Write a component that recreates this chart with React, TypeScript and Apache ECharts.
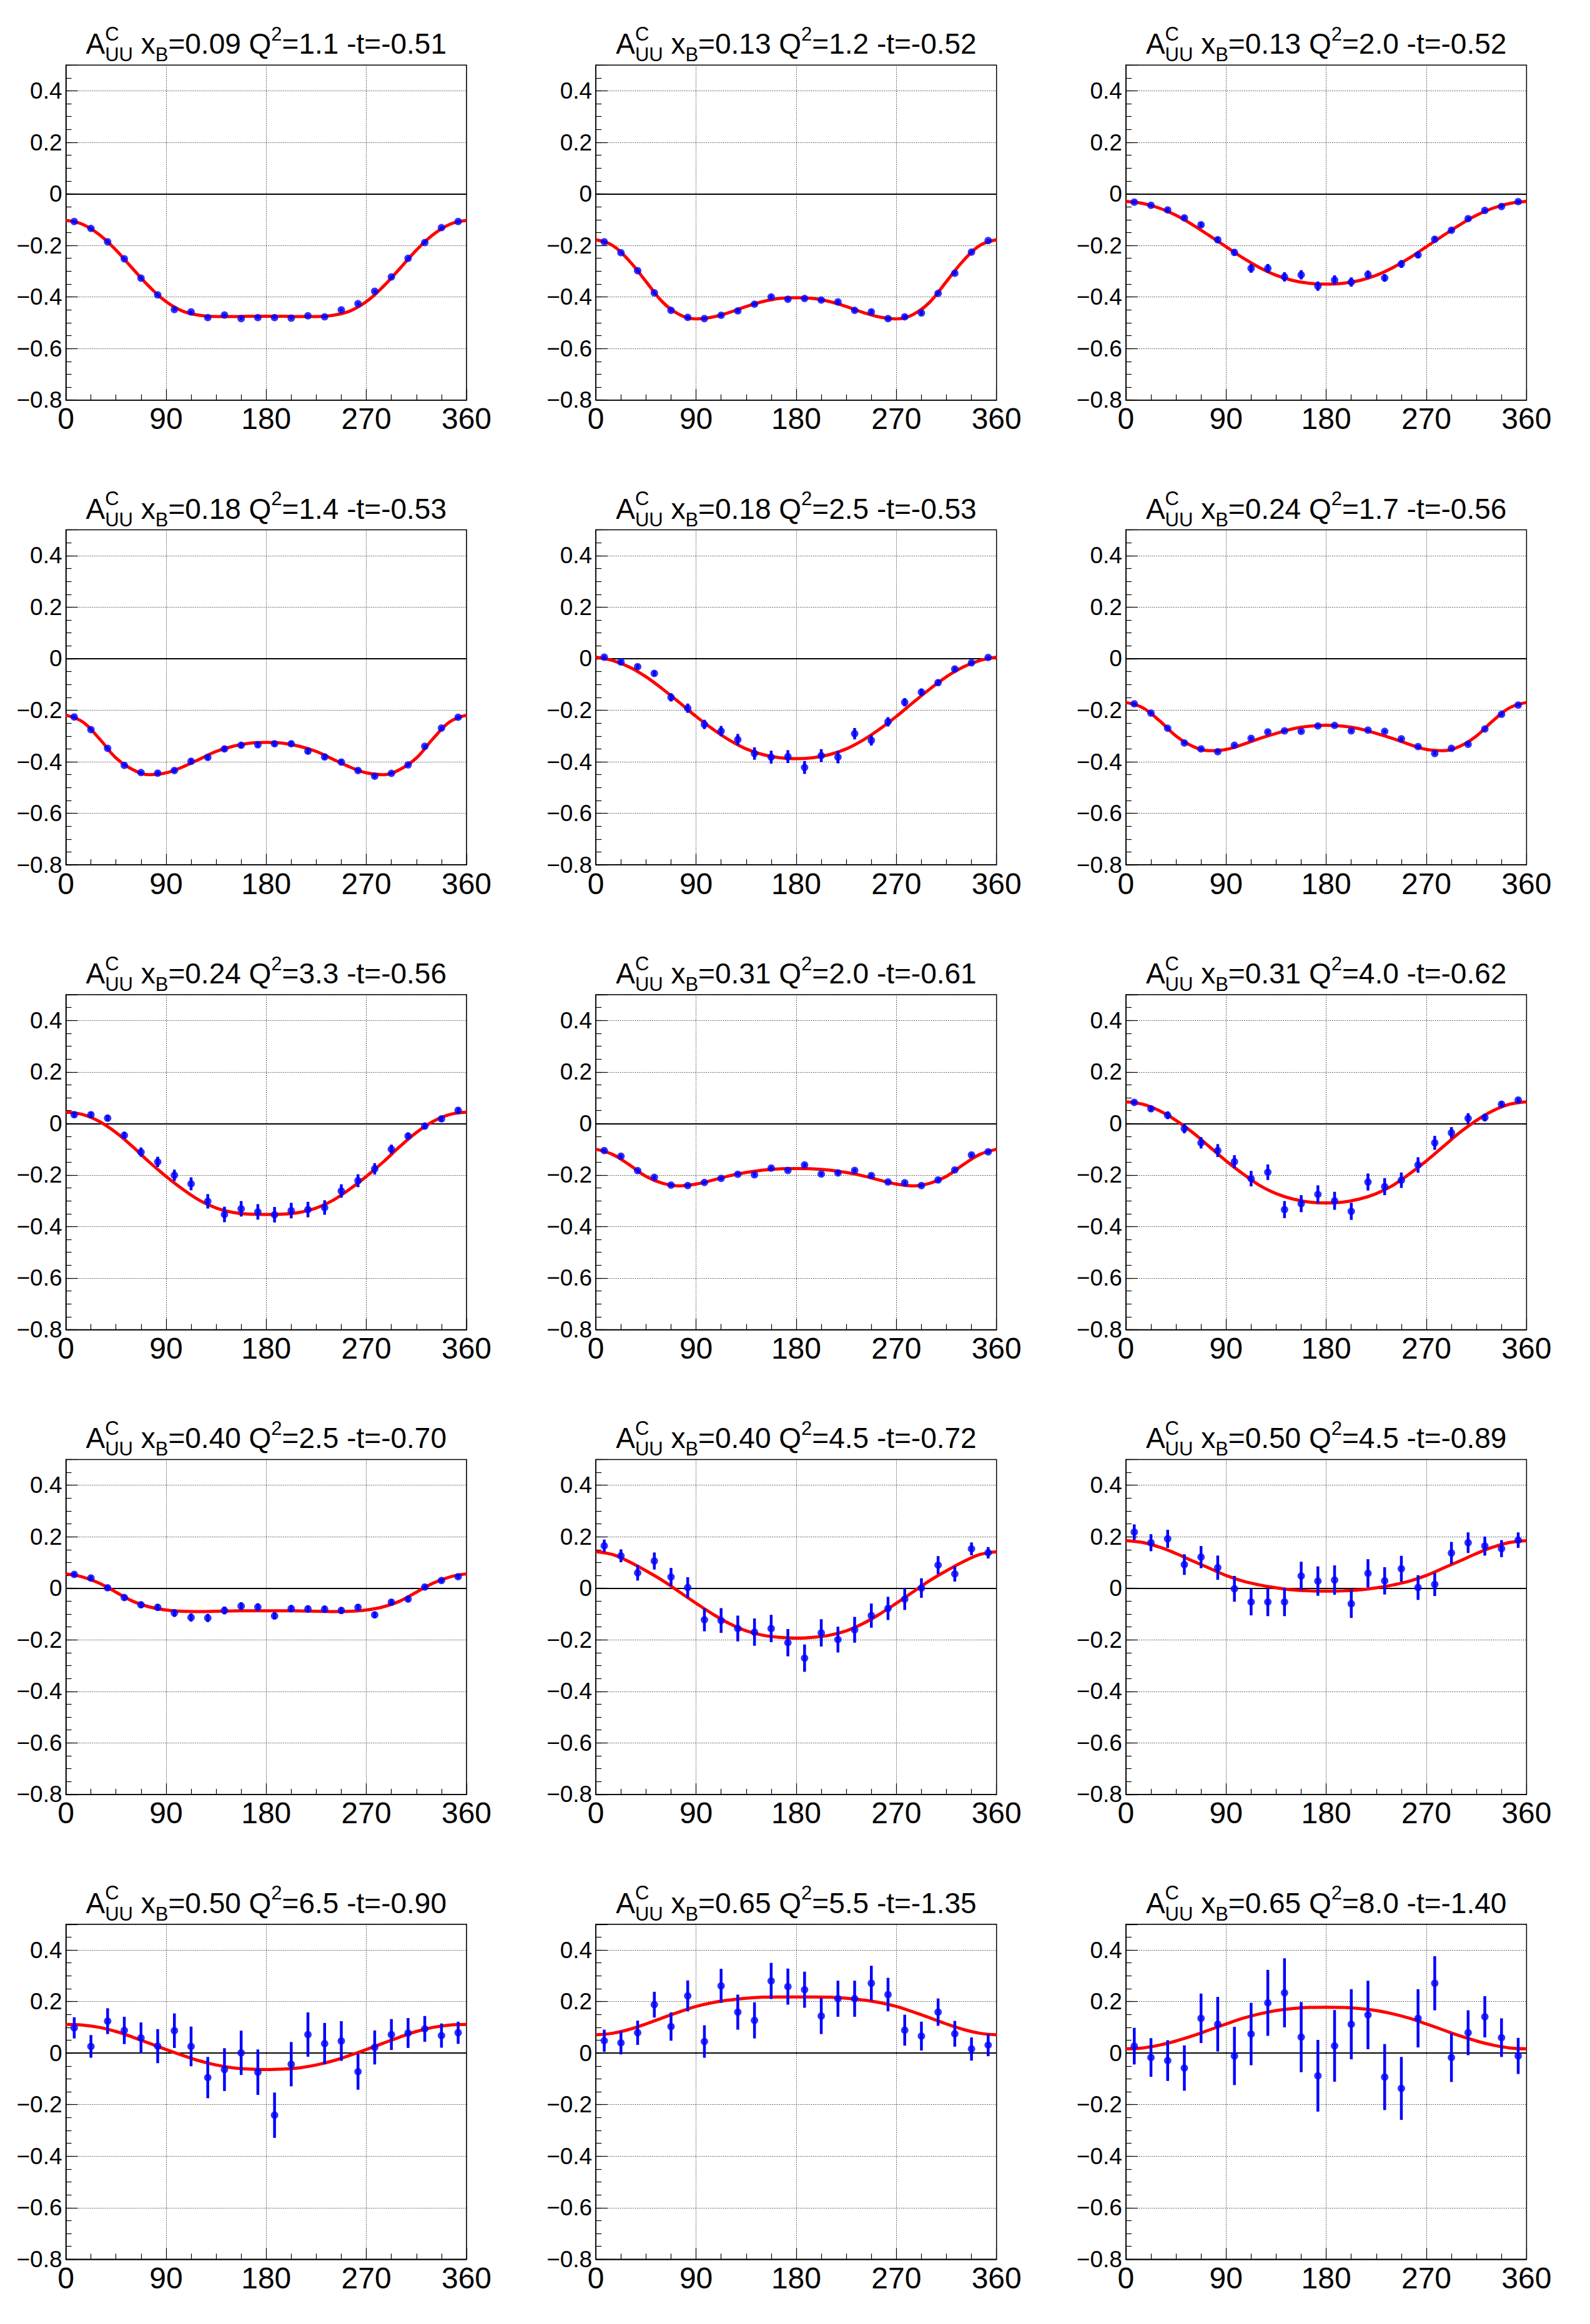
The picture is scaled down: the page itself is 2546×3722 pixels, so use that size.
import React, { useEffect, useRef } from "react";
import * as echarts from "echarts";

const W = 2546;
const H = 3722;
const FONT = '"Liberation Sans", Arial, Helvetica, sans-serif';

// phi bin centres (deg) for the measured points
const PHI_BINS = [7.5, 22.5, 37.5, 52.5, 67.5, 82.5, 97.5, 112.5, 127.5, 142.5, 157.5, 172.5,
  187.5, 202.5, 217.5, 232.5, 247.5, 262.5, 277.5, 292.5, 307.5, 322.5, 337.5, 352.5];
// phi samples (deg) at which the fit curve was read
const CURVE_PHI = [0, 15, 30, 45, 60, 75, 90, 105, 120, 135, 150, 165, 180, 195, 210, 225, 240,
  255, 270, 285, 300, 315, 330, 345, 360];

// panel titles
const TITLE_XB = ["0.09", "0.13", "0.13", "0.18", "0.18", "0.24", "0.24", "0.31", "0.31", "0.40", "0.40", "0.50", "0.50", "0.65", "0.65"];
const TITLE_Q2 = ["1.1", "1.2", "2.0", "1.4", "2.5", "1.7", "3.3", "2.0", "4.0", "2.5", "4.5", "4.5", "6.5", "5.5", "8.0"];
const TITLE_T = ["-0.51", "-0.52", "-0.52", "-0.53", "-0.53", "-0.56", "-0.56", "-0.61", "-0.62", "-0.70", "-0.72", "-0.89", "-0.90", "-1.35", "-1.40"];

// y axis ticks
const Y_MIN = -0.8;
const Y_MAX = 0.5;
const Y_MAJOR = 0.2;
const Y_MINOR = 0.05;

const P1_VALUES = [-0.107, -0.134, -0.186, -0.252, -0.327, -0.392, -0.449, -0.458, -0.48, -0.47, -0.484, -0.48, -0.48, -0.482, -0.473, -0.477, -0.45, -0.426, -0.378, -0.322, -0.25, -0.189, -0.131, -0.107];
const P1_ERRORS = [0.005, 0.005, 0.005, 0.005, 0.005, 0.005, 0.005, 0.005, 0.005, 0.005, 0.005, 0.005, 0.005, 0.005, 0.005, 0.005, 0.005, 0.005, 0.005, 0.005, 0.005, 0.005, 0.005, 0.005];
const P1_CURVE = [-0.103, -0.118, -0.158, -0.218, -0.29, -0.36, -0.418, -0.455, -0.471, -0.476, -0.476, -0.475, -0.475, -0.475, -0.476, -0.476, -0.471, -0.455, -0.418, -0.36, -0.29, -0.218, -0.158, -0.118, -0.103];

const P2_VALUES = [-0.186, -0.228, -0.298, -0.384, -0.452, -0.479, -0.484, -0.471, -0.454, -0.428, -0.4, -0.409, -0.406, -0.412, -0.419, -0.452, -0.458, -0.484, -0.477, -0.462, -0.386, -0.308, -0.226, -0.181];
const P2_ERRORS = [0.005, 0.005, 0.005, 0.006, 0.006, 0.006, 0.006, 0.007, 0.007, 0.007, 0.007, 0.007, 0.007, 0.007, 0.007, 0.008, 0.008, 0.008, 0.008, 0.008, 0.006, 0.006, 0.005, 0.005];
const P2_CURVE = [-0.178, -0.2, -0.26, -0.34, -0.42, -0.468, -0.485, -0.478, -0.46, -0.437, -0.418, -0.406, -0.403, -0.406, -0.418, -0.437, -0.46, -0.478, -0.485, -0.468, -0.42, -0.34, -0.26, -0.2, -0.178];

const P3_VALUES = [-0.032, -0.044, -0.062, -0.093, -0.12, -0.178, -0.227, -0.289, -0.289, -0.322, -0.314, -0.358, -0.334, -0.342, -0.313, -0.326, -0.272, -0.237, -0.176, -0.141, -0.096, -0.064, -0.049, -0.03];
const P3_ERRORS = [0.006, 0.006, 0.007, 0.008, 0.009, 0.01, 0.012, 0.017, 0.017, 0.018, 0.018, 0.018, 0.018, 0.018, 0.016, 0.015, 0.015, 0.012, 0.01, 0.008, 0.007, 0.006, 0.006, 0.006];
const P3_CURVE = [-0.029, -0.037, -0.055, -0.083, -0.12, -0.162, -0.205, -0.248, -0.286, -0.316, -0.336, -0.347, -0.35, -0.347, -0.336, -0.316, -0.286, -0.248, -0.205, -0.162, -0.12, -0.083, -0.055, -0.037, -0.029];

const P4_VALUES = [-0.226, -0.275, -0.348, -0.414, -0.442, -0.444, -0.434, -0.398, -0.383, -0.35, -0.336, -0.334, -0.33, -0.33, -0.359, -0.381, -0.401, -0.434, -0.456, -0.445, -0.412, -0.34, -0.269, -0.227];
const P4_ERRORS = [0.006, 0.006, 0.006, 0.006, 0.006, 0.007, 0.008, 0.01, 0.01, 0.01, 0.01, 0.01, 0.01, 0.01, 0.01, 0.01, 0.009, 0.008, 0.007, 0.006, 0.006, 0.006, 0.006, 0.006];
const P4_CURVE = [-0.219, -0.245, -0.31, -0.385, -0.43, -0.45, -0.443, -0.42, -0.39, -0.36, -0.34, -0.328, -0.325, -0.328, -0.34, -0.36, -0.39, -0.42, -0.443, -0.45, -0.43, -0.385, -0.31, -0.245, -0.219];

const P5_VALUES = [0.006, -0.013, -0.031, -0.057, -0.15, -0.192, -0.255, -0.281, -0.314, -0.368, -0.382, -0.38, -0.422, -0.376, -0.382, -0.291, -0.317, -0.245, -0.169, -0.13, -0.093, -0.04, -0.016, 0.005];
const P5_ERRORS = [0.007, 0.008, 0.009, 0.01, 0.016, 0.018, 0.018, 0.02, 0.022, 0.024, 0.025, 0.025, 0.025, 0.025, 0.024, 0.022, 0.02, 0.018, 0.016, 0.014, 0.01, 0.008, 0.007, 0.006];
const P5_CURVE = [0.006, -0.007, -0.032, -0.07, -0.118, -0.17, -0.224, -0.273, -0.316, -0.35, -0.372, -0.384, -0.388, -0.384, -0.372, -0.35, -0.316, -0.273, -0.224, -0.17, -0.118, -0.07, -0.032, -0.007, 0.006];

const P6_VALUES = [-0.175, -0.211, -0.27, -0.327, -0.35, -0.361, -0.336, -0.309, -0.284, -0.28, -0.282, -0.261, -0.259, -0.28, -0.277, -0.282, -0.311, -0.341, -0.368, -0.348, -0.332, -0.273, -0.216, -0.18];
const P6_ERRORS = [0.006, 0.006, 0.006, 0.006, 0.006, 0.006, 0.006, 0.006, 0.006, 0.006, 0.006, 0.006, 0.006, 0.006, 0.006, 0.006, 0.006, 0.006, 0.006, 0.006, 0.006, 0.006, 0.006, 0.006];
const P6_CURVE = [-0.17, -0.19, -0.24, -0.3, -0.34, -0.357, -0.352, -0.333, -0.31, -0.29, -0.272, -0.262, -0.258, -0.262, -0.272, -0.29, -0.31, -0.333, -0.352, -0.357, -0.34, -0.3, -0.24, -0.19, -0.17];

const P7_VALUES = [0.034, 0.034, 0.021, -0.046, -0.111, -0.149, -0.201, -0.234, -0.302, -0.353, -0.331, -0.343, -0.354, -0.338, -0.334, -0.326, -0.262, -0.222, -0.176, -0.1, -0.049, -0.01, 0.018, 0.051];
const P7_ERRORS = [0.01, 0.01, 0.012, 0.014, 0.018, 0.02, 0.022, 0.025, 0.028, 0.03, 0.03, 0.03, 0.03, 0.03, 0.03, 0.028, 0.026, 0.025, 0.022, 0.018, 0.014, 0.012, 0.01, 0.01];
const P7_CURVE = [0.044, 0.035, 0.008, -0.035, -0.09, -0.15, -0.205, -0.255, -0.298, -0.328, -0.345, -0.352, -0.353, -0.352, -0.345, -0.328, -0.298, -0.255, -0.205, -0.15, -0.09, -0.035, 0.008, 0.035, 0.044];

const P8_VALUES = [-0.105, -0.127, -0.183, -0.209, -0.239, -0.241, -0.229, -0.213, -0.197, -0.199, -0.173, -0.182, -0.161, -0.196, -0.192, -0.182, -0.202, -0.227, -0.23, -0.241, -0.219, -0.18, -0.122, -0.11];
const P8_ERRORS = [0.007, 0.007, 0.007, 0.007, 0.007, 0.007, 0.007, 0.007, 0.007, 0.007, 0.007, 0.007, 0.007, 0.007, 0.007, 0.007, 0.007, 0.007, 0.007, 0.007, 0.007, 0.007, 0.007, 0.007];
const P8_CURVE = [-0.1, -0.12, -0.16, -0.205, -0.232, -0.242, -0.235, -0.22, -0.203, -0.19, -0.181, -0.176, -0.175, -0.176, -0.181, -0.19, -0.203, -0.22, -0.235, -0.242, -0.232, -0.205, -0.16, -0.12, -0.1];

const P9_VALUES = [0.082, 0.057, 0.032, -0.02, -0.075, -0.105, -0.148, -0.214, -0.189, -0.334, -0.311, -0.275, -0.3, -0.341, -0.227, -0.245, -0.22, -0.161, -0.075, -0.036, 0.02, 0.023, 0.075, 0.091];
const P9_ERRORS = [0.008, 0.01, 0.015, 0.018, 0.022, 0.025, 0.025, 0.03, 0.03, 0.033, 0.033, 0.035, 0.035, 0.033, 0.033, 0.033, 0.03, 0.03, 0.027, 0.022, 0.02, 0.015, 0.01, 0.008];
const P9_CURVE = [0.084, 0.075, 0.05, 0.012, -0.035, -0.09, -0.145, -0.195, -0.24, -0.272, -0.293, -0.305, -0.308, -0.305, -0.293, -0.272, -0.24, -0.195, -0.145, -0.09, -0.035, 0.012, 0.05, 0.075, 0.084];

const P10_VALUES = [0.054, 0.04, 0.002, -0.036, -0.064, -0.074, -0.096, -0.113, -0.115, -0.086, -0.069, -0.073, -0.107, -0.079, -0.08, -0.081, -0.086, -0.074, -0.103, -0.054, -0.042, 0.005, 0.03, 0.045];
const P10_ERRORS = [0.008, 0.009, 0.01, 0.011, 0.012, 0.013, 0.015, 0.016, 0.016, 0.015, 0.015, 0.015, 0.014, 0.014, 0.014, 0.014, 0.013, 0.013, 0.012, 0.011, 0.01, 0.009, 0.008, 0.008];
const P10_CURVE = [0.056, 0.044, 0.02, -0.015, -0.05, -0.072, -0.084, -0.089, -0.09, -0.089, -0.088, -0.087, -0.087, -0.087, -0.088, -0.089, -0.09, -0.089, -0.084, -0.072, -0.05, -0.015, 0.02, 0.044, 0.056];

const P11_VALUES = [0.165, 0.126, 0.06, 0.106, 0.044, 0.003, -0.122, -0.125, -0.156, -0.17, -0.156, -0.211, -0.271, -0.173, -0.199, -0.161, -0.106, -0.078, -0.042, 0.001, 0.09, 0.056, 0.153, 0.138];
const P11_ERRORS = [0.024, 0.025, 0.03, 0.033, 0.035, 0.04, 0.045, 0.048, 0.05, 0.053, 0.053, 0.053, 0.053, 0.053, 0.05, 0.05, 0.047, 0.045, 0.042, 0.038, 0.035, 0.03, 0.025, 0.022];
const P11_CURVE = [0.142, 0.131, 0.103, 0.068, 0.03, -0.014, -0.058, -0.1, -0.137, -0.165, -0.182, -0.19, -0.193, -0.19, -0.182, -0.165, -0.137, -0.1, -0.058, -0.014, 0.03, 0.068, 0.103, 0.131, 0.142];

const P12_VALUES = [0.218, 0.177, 0.192, 0.092, 0.121, 0.08, -0.002, -0.053, -0.053, -0.053, 0.048, 0.028, 0.032, -0.06, 0.058, 0.029, 0.076, 0.003, 0.015, 0.137, 0.177, 0.164, 0.154, 0.187];
const P12_ERRORS = [0.03, 0.033, 0.035, 0.04, 0.043, 0.047, 0.05, 0.052, 0.055, 0.055, 0.055, 0.057, 0.057, 0.055, 0.055, 0.053, 0.05, 0.048, 0.045, 0.043, 0.04, 0.037, 0.033, 0.03];
const P12_CURVE = [0.185, 0.178, 0.16, 0.135, 0.106, 0.078, 0.05, 0.028, 0.013, 0.002, -0.006, -0.01, -0.011, -0.01, -0.006, 0.002, 0.013, 0.028, 0.05, 0.078, 0.106, 0.135, 0.16, 0.178, 0.185];

const P13_VALUES = [0.098, 0.026, 0.124, 0.088, 0.059, 0.027, 0.087, 0.026, -0.095, -0.064, 0.001, -0.074, -0.241, -0.043, 0.072, 0.037, 0.047, -0.072, 0.022, 0.072, 0.078, 0.094, 0.068, 0.079];
const P13_ERRORS = [0.041, 0.044, 0.05, 0.053, 0.06, 0.066, 0.067, 0.077, 0.08, 0.083, 0.086, 0.088, 0.088, 0.086, 0.086, 0.08, 0.077, 0.07, 0.066, 0.06, 0.058, 0.05, 0.047, 0.043];
const P13_CURVE = [0.111, 0.109, 0.1, 0.084, 0.062, 0.038, 0.014, -0.009, -0.03, -0.046, -0.057, -0.062, -0.064, -0.062, -0.057, -0.046, -0.03, -0.009, 0.014, 0.038, 0.062, 0.084, 0.1, 0.109, 0.111];

const P14_VALUES = [0.048, 0.04, 0.079, 0.188, 0.103, 0.222, 0.045, 0.261, 0.159, 0.127, 0.28, 0.258, 0.246, 0.144, 0.211, 0.211, 0.271, 0.227, 0.089, 0.066, 0.159, 0.075, 0.016, 0.031];
const P14_ERRORS = [0.043, 0.045, 0.047, 0.05, 0.055, 0.06, 0.063, 0.066, 0.068, 0.07, 0.07, 0.07, 0.07, 0.07, 0.07, 0.07, 0.068, 0.065, 0.06, 0.056, 0.053, 0.05, 0.045, 0.043];
const P14_CURVE = [0.071, 0.077, 0.092, 0.113, 0.137, 0.16, 0.181, 0.196, 0.206, 0.213, 0.217, 0.218, 0.218, 0.218, 0.217, 0.213, 0.206, 0.196, 0.181, 0.16, 0.137, 0.113, 0.092, 0.077, 0.071];

const P15_VALUES = [0.027, -0.017, -0.029, -0.058, 0.135, 0.112, -0.011, 0.074, 0.195, 0.234, 0.062, -0.088, 0.028, 0.112, 0.148, -0.093, -0.137, 0.135, 0.271, -0.017, 0.079, 0.141, 0.06, -0.011];
const P15_ERRORS = [0.071, 0.075, 0.079, 0.088, 0.096, 0.106, 0.113, 0.121, 0.128, 0.134, 0.136, 0.139, 0.139, 0.136, 0.133, 0.128, 0.122, 0.113, 0.105, 0.095, 0.087, 0.08, 0.075, 0.07];
const P15_CURVE = [0.017, 0.02, 0.031, 0.047, 0.067, 0.09, 0.113, 0.135, 0.152, 0.165, 0.173, 0.177, 0.178, 0.177, 0.173, 0.165, 0.152, 0.135, 0.113, 0.09, 0.067, 0.047, 0.031, 0.02, 0.017];

const PANELS = [
  { v: P1_VALUES, e: P1_ERRORS, c: P1_CURVE },
  { v: P2_VALUES, e: P2_ERRORS, c: P2_CURVE },
  { v: P3_VALUES, e: P3_ERRORS, c: P3_CURVE },
  { v: P4_VALUES, e: P4_ERRORS, c: P4_CURVE },
  { v: P5_VALUES, e: P5_ERRORS, c: P5_CURVE },
  { v: P6_VALUES, e: P6_ERRORS, c: P6_CURVE },
  { v: P7_VALUES, e: P7_ERRORS, c: P7_CURVE },
  { v: P8_VALUES, e: P8_ERRORS, c: P8_CURVE },
  { v: P9_VALUES, e: P9_ERRORS, c: P9_CURVE },
  { v: P10_VALUES, e: P10_ERRORS, c: P10_CURVE },
  { v: P11_VALUES, e: P11_ERRORS, c: P11_CURVE },
  { v: P12_VALUES, e: P12_ERRORS, c: P12_CURVE },
  { v: P13_VALUES, e: P13_ERRORS, c: P13_CURVE },
  { v: P14_VALUES, e: P14_ERRORS, c: P14_CURVE },
  { v: P15_VALUES, e: P15_ERRORS, c: P15_CURVE },
];

// layout (pixels)
const GRID_LEFT0 = 105.5;
const COL_STEP = 848.7;
const GRID_W = 641.5;
const GRID_TOP0 = 104.2;
const ROW_STEP = 744.4;
const GRID_H = 536.5;
const TITLE_MAIN = 46;
const TITLE_SMALL = 31;

function fmtY(v: number): string {
  const r = Math.round(v * 10) / 10;
  if (r > 0.45) return "";
  if (Math.abs(r) < 1e-9) return "0";
  return r < 0 ? "\u2212" + String(Math.abs(r)) : String(r);
}

function buildOption() {
  const canvas = document.createElement("canvas");
  const ctx = canvas.getContext("2d") as CanvasRenderingContext2D;
  const tw = (s: string, size: number) => {
    ctx.font = `${size}px ${FONT}`;
    return ctx.measureText(s).width;
  };

  const grids: any[] = [];
  const xAxes: any[] = [];
  const yAxes: any[] = [];
  const series: any[] = [];
  const graphics: any[] = [];
  const gridLine = { show: true, lineStyle: { color: "#000", width: 1, type: [1, 2] } };

  PANELS.forEach((p, i) => {
    const col = i % 3;
    const row = Math.floor(i / 3);
    const left = GRID_LEFT0 + col * COL_STEP;
    const top = GRID_TOP0 + row * ROW_STEP;
    grids.push({
      left, top, width: GRID_W, height: GRID_H,
      show: true, borderColor: "#000", borderWidth: 1.5, backgroundColor: "rgba(0,0,0,0)",
      containLabel: false, outerBoundsMode: "none",
    });
    xAxes.push({
      type: "value", gridIndex: i, min: 0, max: 360, interval: 90,
      axisLine: { show: true, onZero: false, lineStyle: { color: "#000", width: 1.5 } },
      axisTick: { show: true, inside: true, length: 18, lineStyle: { color: "#000", width: 1.2 } },
      minorTick: { show: true, splitNumber: 4, length: 9, lineStyle: { color: "#000", width: 1.2 } },
      axisLabel: { show: true, fontSize: 48, fontFamily: FONT, color: "#000", margin: 6 },
      splitLine: gridLine,
      minorSplitLine: { show: false },
    });
    yAxes.push({
      type: "value", gridIndex: i, position: "left", min: Y_MIN, max: Y_MAX, interval: Y_MAJOR,
      axisLine: { show: true, onZero: false, lineStyle: { color: "#000", width: 1.5 } },
      axisTick: { show: true, inside: true, length: 19, lineStyle: { color: "#000", width: 1.2 } },
      axisLabel: { show: true, fontSize: 37, fontFamily: FONT, color: "#000", margin: 6, formatter: fmtY },
      splitLine: gridLine,
    });
    yAxes.push({
      type: "value", gridIndex: i, position: "left", offset: 0, min: Y_MIN, max: Y_MAX, interval: Y_MINOR,
      axisLine: { show: false, onZero: false },
      axisTick: { show: true, inside: true, length: 9, lineStyle: { color: "#000", width: 1.2 } },
      axisLabel: { show: false },
      splitLine: { show: false },
    });
    const yIdx = i * 2;

    series.push({
      type: "line", xAxisIndex: i, yAxisIndex: yIdx, z: 3,
      data: CURVE_PHI.map((x, k) => [x, p.c[k]]),
      smooth: 0.4, showSymbol: false, symbol: "none",
      lineStyle: { color: "#ff0000", width: 5 },
      markLine: {
        silent: true, z: 2, symbol: ["none", "none"], label: { show: false },
        lineStyle: { color: "#000", width: 2, type: "solid" },
        data: [{ yAxis: 0 }],
      },
    });
    series.push({
      type: "custom", xAxisIndex: i, yAxisIndex: yIdx, z: 4,
      data: PHI_BINS.map((x, k) => [x, p.v[k], p.e[k]]),
      encode: { x: 0, y: 1 },
      renderItem: (params: any, api: any) => {
        const x = api.value(0);
        const y = api.value(1);
        const e = api.value(2);
        const a = api.coord([x, y - e]);
        const b = api.coord([x, y + e]);
        return {
          type: "line",
          shape: { x1: a[0], y1: a[1], x2: b[0], y2: b[1] },
          style: { stroke: "#0000ff", lineWidth: 4.5 },
        };
      },
    });
    series.push({
      type: "scatter", xAxisIndex: i, yAxisIndex: yIdx, z: 5,
      data: PHI_BINS.map((x, k) => [x, p.v[k]]),
      symbol: "circle", symbolSize: 12,
      itemStyle: { color: "#0000ff" },
    });

    // title with stacked sup/sub scripts
    const segs: any[] = [];
    const m1 = "A";
    const supC = "C";
    const subUU = "UU";
    const m2 = " x";
    const subB = "B";
    const m3 = `=${TITLE_XB[i]} Q`;
    const sup2 = "2";
    const m4 = `=${TITLE_Q2[i]} -t=${TITLE_T[i]}`;
    const wA = tw(m1, TITLE_MAIN);
    const wCU = Math.max(tw(supC, TITLE_SMALL), tw(subUU, TITLE_SMALL));
    const w2 = tw(m2, TITLE_MAIN);
    const wB = tw(subB, TITLE_SMALL);
    const w3 = tw(m3, TITLE_MAIN);
    const wS2 = tw(sup2, TITLE_SMALL);
    const w4 = tw(m4, TITLE_MAIN);
    const total = wA + wCU + w2 + wB + w3 + wS2 + w4;
    let cx = left + GRID_W / 2 - total / 2;
    const yMain = top - 34;
    const ySub = top - 16.5;
    const ySup = top - 50;
    segs.push({ t: m1, x: cx, y: yMain, s: TITLE_MAIN }); cx += wA;
    segs.push({ t: supC, x: cx, y: ySup, s: TITLE_SMALL });
    segs.push({ t: subUU, x: cx, y: ySub, s: TITLE_SMALL }); cx += wCU;
    segs.push({ t: m2, x: cx, y: yMain, s: TITLE_MAIN }); cx += w2;
    segs.push({ t: subB, x: cx, y: ySub, s: TITLE_SMALL }); cx += wB;
    segs.push({ t: m3, x: cx, y: yMain, s: TITLE_MAIN }); cx += w3;
    segs.push({ t: sup2, x: cx, y: ySup, s: TITLE_SMALL }); cx += wS2;
    segs.push({ t: m4, x: cx, y: yMain, s: TITLE_MAIN });
    segs.forEach((sg) => {
      graphics.push({
        type: "text", x: sg.x, y: sg.y, silent: true,
        style: {
          text: sg.t, fill: "#000", fontSize: sg.s, fontFamily: FONT,
          align: "left", verticalAlign: "middle", textAlign: "left", textVerticalAlign: "middle",
        },
      });
    });
  });

  return {
    animation: false,
    backgroundColor: "#ffffff",
    textStyle: { fontFamily: FONT },
    grid: grids,
    xAxis: xAxes,
    yAxis: yAxes,
    series,
    graphic: graphics,
  };
}

export default function App() {
  const ref = useRef<HTMLDivElement | null>(null);
  useEffect(() => {
    document.body.style.margin = "0";
    if (!ref.current) return;
    const chart = echarts.init(ref.current, undefined, { renderer: "svg", width: W, height: H });
    chart.setOption(buildOption() as any);
    return () => {
      chart.dispose();
    };
  }, []);
  return <div ref={ref} style={{ width: W, height: H, background: "#fff" }} />;
}
